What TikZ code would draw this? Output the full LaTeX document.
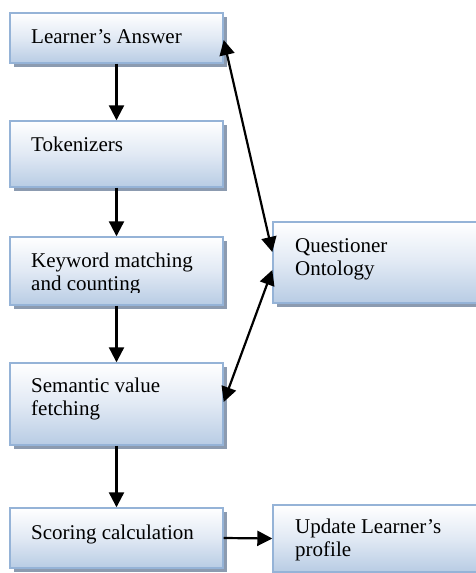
\documentclass[tikz,border=0pt]{standalone}
\usepackage{fontspec}
\setmainfont{Liberation Serif}
\usetikzlibrary{arrows.meta,shadows,calc}
\definecolor{bordblue}{RGB}{149,179,215}
\definecolor{botblue}{RGB}{184,204,228}
\definecolor{midblue}{RGB}{225,233,244}
\definecolor{shadowc}{RGB}{140,155,176}
\begin{document}
\begin{tikzpicture}[x=1pt,y=-1pt,
  boxstyle/.style={draw=bordblue,line width=1.4pt,rectangle,inner sep=0pt,
    top color=white,bottom color=botblue,middle color=midblue,
    drop shadow={shadow xshift=3.5pt,shadow yshift=-4pt,fill=shadowc,opacity=1}},
  txt/.style={inner sep=0pt,anchor=base west,align=left,
    font=\fontsize{21}{23}\selectfont},
  conn/.style={line width=2.2pt,-{Triangle[length=15pt,width=15pt]}},
  dconn/.style={line width=2.2pt,{Triangle[length=15pt,width=15pt]}-{Triangle[length=15pt,width=15pt]}}]
\useasboundingbox (0,0) rectangle (475,573);
\fill[white] (0,0) rectangle (475,573);
% boxes
\node[boxstyle,minimum width=213pt,minimum height=50pt] (b1) at (116.5,38) {};
\node[boxstyle,minimum width=213pt,minimum height=66pt] (b2) at (116.5,154) {};
\node[boxstyle,minimum width=213pt,minimum height=68pt] (b3) at (116.5,271) {};
\node[boxstyle,minimum width=213pt,minimum height=82pt] (b4) at (116.5,404) {};
\node[boxstyle,minimum width=213pt,minimum height=60pt] (b5) at (116.5,538) {};
\node[boxstyle,minimum width=217pt,minimum height=81pt] (q) at (381.5,262.5) {};
\node[boxstyle,minimum width=217pt,minimum height=67pt] (u) at (381.5,538.5) {};
% texts
\node[txt] (t1) at (31,43) {Learner’s Answer};
\node[txt] (t2) at (31,151) {Tokenizers};
\begin{scope}
\clip (20,240) rectangle (222,292.5);
\node[txt] (t3) at (31,290) {Keyword matching\\and counting};
\end{scope}
\node[txt] (t4) at (31,415) {Semantic value\\fetching};
\node[txt] (t5) at (31,539) {Scoring calculation};
\node[txt] (tq) at (295,275) {Questioner\\Ontology};
\node[txt] (tu) at (295,556) {Update Learner’s\\profile};
% connectors
\draw[conn] (b1.south) -- (b2.north);
\draw[conn] (b2.south) -- (b3.north);
\draw[conn] (b3.south) -- (b4.north);
\draw[conn] (b4.south) -- (b5.north);
\draw[conn] (b5.east) -- (u.west);
\draw[dconn] ([yshift=-2pt]b1.east) -- ([yshift=10.5pt]q.west);
\draw[dconn] ([yshift=-7.5pt]q.west) -- ([yshift=2pt]b4.east);
\end{tikzpicture}
\end{document}
